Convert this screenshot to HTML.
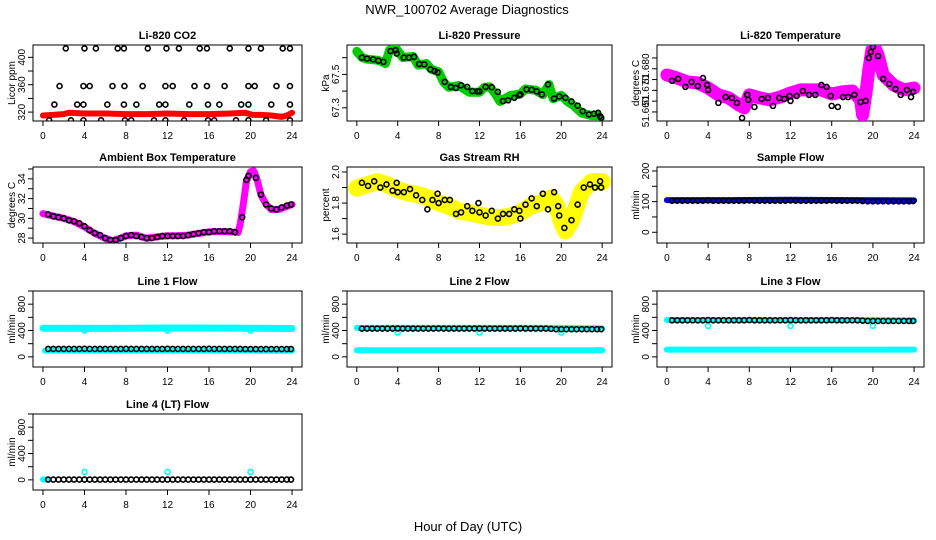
<!DOCTYPE html>
<html><head><meta charset="utf-8"><style>
html,body{margin:0;padding:0;background:#fff;}
svg{display:block;font-family:"Liberation Sans",Arial,sans-serif;}
</style></head><body>
<svg id="chart" width="936" height="540" viewBox="0 0 936 540" xmlns="http://www.w3.org/2000/svg">
<text x="467" y="14" font-size="13" text-anchor="middle">NWR_100702  Average Diagnostics</text>
<text x="468" y="531" font-size="13" text-anchor="middle">Hour of Day (UTC)</text>
</svg>
<script>
// ---------- data ----------
const co2BlackHours = [2.2,4,5.1,7.2,7.8,10.1,11.9,13.1,15.1,15.8,18,19.8,21,23.1,23.8, 1.6,3.9,4.5,6.7,7.85,9.6,11.8,12.5,14.6,15.8,17.5,19.8,20.4,22.5,23.8, 1.1,3.3,3.9,6.2,7.8,9,11.2,11.8,14.1,15.9,17,19.1,19.8,22,23.8, 0.6,2.7,3.9,5.6,7.9,8.5,10.7,11.8,13.6,15.9,16.5,18.6,19.8,21.5,23.8];
const co2BlackValues = [413,413,413,413,413,413,413,413,413,413,413,413,413,413,413, 358,358,358,358,358,358,358,358,358,358,358,358,358,358,358, 331,331,331,331,331,331,331,331,331,331,331,331,331,331,331, 308,308,308,308,308,308,308,308,308,308,308,308,308,308,308];
const co2RedHours = [0,1,2,2.5,4,6,8,10,12,14,16,18,19.5,20.2,21,22,23,23.5,24];
const co2RedValues = [315,316,317,319,318,318,317,317,318,317,317,318,319,316,316,315,313,315,319];

const presGreenHours = [0,0.5,1,2,2.5,2.8,3.2,3.8,4.5,5.5,6,6.8,7.3,8,8.5,9,10,11,12,12.5,13,13.5,14,15,16,16.5,17.5,18.2,18.8,19.2,20,20.6,21.2,22,23,23.5,23.8];
const presGreenValues = [67.638,67.601,67.591,67.585,67.575,67.565,67.645,67.658,67.601,67.607,67.556,67.565,67.530,67.516,67.453,67.423,67.433,67.393,67.393,67.423,67.425,67.389,67.338,67.373,67.383,67.413,67.405,67.379,67.439,67.355,67.375,67.338,67.314,67.268,67.253,67.256,67.238];
const presBlackHours = [0.5,1,1.6,2.1,2.6,3.3,3.8,3.9,4.6,5.1,5.6,6.1,6.6,7.2,7.6,7.9,8.6,9.2,9.7,10.2,10.8,11.3,11.8,12,12.6,13.2,13.8,14.3,14.8,15.4,15.9,16,16.6,17.1,17.6,18.1,18.7,19.3,19.8,20.4,21,21.6,22.1,22.7,23.2,23.6,23.8,23.9];
const presBlackValues = [67.601,67.594,67.590,67.582,67.575,67.640,67.645,67.625,67.601,67.600,67.605,67.562,67.560,67.530,67.520,67.512,67.455,67.425,67.418,67.435,67.425,67.400,67.398,67.398,67.425,67.423,67.395,67.340,67.345,67.360,67.375,67.380,67.410,67.408,67.398,67.380,67.440,67.355,67.368,67.360,67.338,67.313,67.280,67.260,67.265,67.270,67.250,67.240];

const tempMagHours = [0,1,2,3,4,5,6,7,7.5,8,9,10,11,12,13,14,15,16,17,18,18.8,19,19.3,19.6,19.9,20.2,20.5,21,22,23,24];
const tempMagValues = [51.6771,51.6757,51.6739,51.6734,51.6711,51.6679,51.6665,51.6632,51.6619,51.6679,51.6665,51.6656,51.6669,51.6688,51.6702,51.6702,51.6702,51.6683,51.6693,51.6697,51.6656,51.6586,51.6679,51.6794,51.6887,51.6896,51.6864,51.6771,51.6725,51.6702,51.6711];
const tempBlackHours = [0.5,1.1,1.8,2.4,3.0,3.5,3.9,4.0,5.0,5.7,6.3,6.8,7.3,7.8,7.9,8.5,9.2,9.8,10.3,10.9,11.4,11.9,12.0,12.6,13.2,13.8,14.4,15.0,15.5,15.9,16.0,16.6,17.1,17.6,18.2,18.8,19.3,19.6,19.8,20.0,20.5,21.0,21.6,22.2,22.7,23.3,23.7,23.9];
const tempBlackValues = [51.6744,51.6753,51.6716,51.6739,51.6720,51.6757,51.6725,51.6702,51.6642,51.6669,51.6665,51.6642,51.6572,51.6679,51.6656,51.6623,51.6660,51.6665,51.6628,51.6665,51.6660,51.6674,51.6651,51.6674,51.6697,51.6679,51.6679,51.6725,51.6716,51.6674,51.6628,51.6623,51.6669,51.6669,51.6679,51.6646,51.6651,51.6850,51.6878,51.6901,51.6859,51.6753,51.6730,51.6706,51.6679,51.6702,51.6669,51.6693];

const ambMagHours = [0,1,2,3,4,5,6,6.7,7.5,8,9,10,11,12,13,14,15,16,17,18,18.8,19,19.3,19.6,20,20.3,20.6,21,21.5,22,22.7,23.3,24];
const ambMagValues = [30.47,30.23,30.0,29.67,29.13,28.47,27.97,27.73,28.0,28.23,28.3,27.97,28.13,28.23,28.23,28.3,28.47,28.63,28.67,28.63,28.57,29.4,31.4,33.73,34.73,34.8,34.07,32.4,31.4,30.9,30.9,31.13,31.4];
const ambBlackHours = [0.5,1,1.5,2,2.5,3,3.5,4,4.5,5,5.5,6,6.5,7,7.5,8,8.5,9,9.5,10,10.5,11,11.5,12,12.5,13,13.5,14,14.5,15,15.5,16,16.5,17,17.5,18,18.5,19.2,19.6,19.8,20.5,21,21.5,22,22.5,23,23.5,23.9];
const ambBlackValues = [30.4,30.2,30.1,30.0,29.8,29.7,29.5,29.2,28.8,28.5,28.3,28.0,27.8,27.8,28.0,28.2,28.3,28.2,28.1,28.0,28.0,28.1,28.2,28.2,28.2,28.2,28.2,28.3,28.4,28.5,28.6,28.6,28.7,28.7,28.7,28.7,28.6,30.1,33.9,34.3,34.1,32.4,31.4,31.0,30.9,31.1,31.3,31.4];

const rhYelHours = [0,1,2,3,4,5,6,7,8,9,10,11,12,13,14,15,16,17,18,19,19.5,20,20.4,21,21.5,22,23,24];
const rhYelValues = [1.896,1.917,1.938,1.917,1.886,1.865,1.854,1.833,1.801,1.780,1.748,1.738,1.723,1.710,1.706,1.716,1.738,1.780,1.801,1.833,1.790,1.684,1.621,1.684,1.780,1.875,1.938,1.938];
const rhBlackHours = [0.5,1.1,1.7,2.3,2.9,3.5,3.9,4.0,4.6,5.2,5.8,6.4,6.9,7.4,7.9,8.0,8.6,9.1,9.7,10.2,10.8,11.3,11.9,12.0,12.6,13.2,13.8,14.3,14.9,15.4,15.9,16.0,16.5,17.1,17.6,18.2,18.7,19.3,19.7,19.8,20.3,21.0,21.6,22.2,22.8,23.3,23.8,23.9];
const rhBlackValues = [1.93,1.91,1.94,1.90,1.92,1.88,1.93,1.87,1.87,1.89,1.85,1.82,1.76,1.82,1.86,1.80,1.82,1.82,1.73,1.74,1.78,1.75,1.80,1.74,1.72,1.75,1.70,1.73,1.73,1.76,1.75,1.70,1.79,1.83,1.78,1.86,1.76,1.87,1.78,1.72,1.64,1.69,1.79,1.90,1.92,1.90,1.94,1.90];

const flowHours = [0.5,1,1.5,2,2.5,3,3.5,4,4.5,5,5.5,6,6.5,7,7.5,8,8.5,9,9.5,10,10.5,11,11.5,12,12.5,13,13.5,14,14.5,15,15.5,16,16.5,17,17.5,18,18.5,19,19.5,20,20.5,21,21.5,22,22.5,23,23.5,23.9];
const sampleBlack = [103,103,103,103,103,103,103,104,103,103,103,103,103,103,103,104,103,103,103,103,103,103,103,104,103,103,103,103,103,103,103,104,103,103,103,103,103,102,101,101,101,101,101,101,101,101,101,102];
const sampleBlueHours = [0,6,12,18,24];
const sampleBlueValues = [105,105,106,105,104];
const line1Black = [120,120,120,120,120,120,120,122,120,120,120,120,120,120,120,122,120,120,120,120,120,120,120,122,120,120,120,120,120,120,120,122,120,120,120,120,120,120,118,118,118,118,118,118,118,118,118,118];
const line1UpperHours = [0,6,12,18,24];
const line1UpperValues = [435,432,438,436,430];
const line1LowerHours = [0.2,6,12,18,24];
const line1LowerValues = [95,95,95,95,95];
const line1OutHours = [4,12,20];
const line1OutValues = [400,400,400];
const line2Black = [430,430,430,430,430,430,430,432,430,430,430,430,430,430,430,432,430,430,430,430,430,430,430,432,430,430,430,430,430,430,430,432,430,430,430,430,430,425,420,420,420,420,420,420,420,420,420,420];
const line2UpperHours = [0,6,12,18,24];
const line2UpperValues = [440,440,440,440,430];
const line2LowerHours = [0,6,12,18,24];
const line2LowerValues = [100,100,100,100,100];
const line2OutHours = [4,12,20];
const line2OutValues = [370,370,370];
const line3Black = [555,555,555,555,555,555,555,558,555,555,555,555,555,555,555,558,555,555,555,555,555,555,555,558,555,555,555,555,555,555,555,558,555,555,555,555,555,550,545,545,545,545,545,545,545,545,545,545];
const line3UpperHours = [0,6,12,18,24];
const line3UpperValues = [560,560,560,560,550];
const line3LowerHours = [0,6,12,18,24];
const line3LowerValues = [110,110,110,110,110];
const line3OutHours = [4,12,20];
const line3OutValues = [470,470,470];
const line4Black = [5,5,5,5,5,5,5,5,5,5,5,5,5,5,5,5,5,5,5,5,5,5,5,5,5,5,5,5,5,5,5,5,5,5,5,5,5,5,5,5,5,5,5,5,5,5,5,5];
const line4CyanHours = [0,0.4];
const line4CyanValues = [5,5];
const line4OutHours = [4,12,20];
const line4OutValues = [120,120,120];

const xTicks = [0,4,8,12,16,20,24];
const flowTicks = [0,200,400,600,800,1000];
const flowLabels = ["0","","400","","800",""];

// ---------- layout ----------
const NS = "http://www.w3.org/2000/svg";
const svg = document.getElementById('chart');
const colLeft = [33,347,657], colW = [269,265,267];
const rowTop = [45,167,291,414], H = 76;

function mk(tag, attrs, parent){
  const e = document.createElementNS(NS, tag);
  for (const k in attrs) e.setAttribute(k, attrs[k]);
  (parent||svg).appendChild(e); return e;
}

function panel(name, col, row, title, ylab, ydom, yticks, ylabels, showX){
  const L = colLeft[col], W = colW[col], T = rowTop[row], B = T + H;
  const g = mk('g', {});
  
  
  const x = h => L + (h + 0.96) / 25.92 * W;
  const y = v => B - (v - ydom[0]) / (ydom[1] - ydom[0]) * H;
  const box = mk('rect', {x:L, y:T, width:W, height:H, fill:'none', stroke:'#000', 'stroke-width':1}, g);
  
  
  const t = mk('text', {x:L + W/2, y:T - 6, 'font-size':11, 'font-weight':'bold', 'text-anchor':'middle'}, g);
  t.textContent = title;
  
  
  const yl = mk('text', {transform:`translate(${L-18},${T+H/2}) rotate(-90)`, 'font-size':10, 'text-anchor':'middle'}, g);
  yl.textContent = ylab;
  
  
  const ya = mk('g', {}, g);
  
  
  mk('line', {x1:L, x2:L, y1:y(yticks[0]), y2:y(yticks[yticks.length-1]), stroke:'#000'}, ya);
  yticks.forEach((v,i) => {
    mk('line', {x1:L-5, x2:L, y1:y(v), y2:y(v), stroke:'#000'}, ya);
    if (ylabels[i]) {
      const tl = mk('text', {transform:`translate(${L-8},${y(v)}) rotate(-90)`, 'font-size':10, 'text-anchor':'middle'}, ya);
      tl.textContent = ylabels[i];
    }
  });
  const xa = mk('g', {}, g);
  
  
  mk('line', {x1:x(0), x2:x(24), y1:B, y2:B, stroke:'#000'}, xa);
  xTicks.forEach(h => {
    mk('line', {x1:x(h), x2:x(h), y1:B, y2:B+5, stroke:'#000'}, xa);
    if (showX) {
      const tl = mk('text', {x:x(h), y:B+18, 'font-size':10, 'text-anchor':'middle'}, xa);
      tl.textContent = String(h);
    }
  });
  const clip = 'clip-' + name;
  const cp = mk('clipPath', {id:clip}, g);
  mk('rect', {x:L, y:T, width:W, height:H}, cp);
  const plot = mk('g', {'clip-path':`url(#${clip})`}, g);
  return {
    band(hours, vals, color, w, nm){
      const p = mk('polyline', {points: hours.map((h,i)=>x(h)+','+y(vals[i])).join(' '), fill:'none', stroke:color, 'stroke-width':w, 'stroke-linecap':'round', 'stroke-linejoin':'round'}, plot);
      
      
    },
    pts(hours, vals, color, nm, r){
      const pg = mk('g', {}, plot);
      
      
      hours.forEach((h,i) => {
        const c = mk('circle', {cx:x(h), cy:y(vals[i]), r:r||2.5, fill:'none', stroke:color, 'stroke-width':1.6}, pg);
        
        
      });
    }
  };
}

// CO2
let p = panel('co2-panel',0,0,'Li-820 CO2','Licor ppm',[307,418],[320,340,360,380,400],['320','','360','','400'],true);
p.band(co2RedHours, co2RedValues, '#ff0000', 6, 'co2-red-series');
p.pts(co2BlackHours, co2BlackValues, '#000', 'co2-black-series');
// Pressure
p = panel('pressure-panel',1,0,'Li-820 Pressure','kPa',[67.221,67.676],[67.3,67.4,67.5,67.6],['67.3','','67.5',''],true);
p.band(presGreenHours, presGreenValues, '#00cc00', 9, 'pressure-green-series');
p.pts(presBlackHours, presBlackValues, '#000', 'pressure-black-series');
// Temperature
p = panel('temperature-panel',2,0,'Li-820 Temperature','degrees C',[51.6558,51.6910],[51.660,51.665,51.670,51.675,51.680,51.685],['51.660','','51.670','','51.680',''],true);
p.band(tempMagHours, tempMagValues, '#ff00ff', 13, 'temperature-magenta-series');
p.pts(tempBlackHours, tempBlackValues, '#000', 'temperature-black-series');
// Ambient
p = panel('ambient-panel',0,1,'Ambient Box Temperature','degrees C',[27.5,35.2],[28,29,30,31,32,33,34,35],['28','','30','','32','','34',''],true);
p.band(ambMagHours, ambMagValues, '#ff00ff', 7, 'ambient-magenta-series');
p.pts(ambBlackHours, ambBlackValues, '#000', 'ambient-black-series');
// RH
p = panel('rh-panel',1,1,'Gas Stream RH','percent',[1.543,2.032],[1.6,1.7,1.8,1.9,2.0],['1.6','','1.8','','2.0'],true);
p.band(rhYelHours, rhYelValues, '#ffff00', 17, 'rh-yellow-series');
p.pts(rhBlackHours, rhBlackValues, '#000', 'rh-black-series');
// Sample flow
p = panel('sample-flow-panel',2,1,'Sample Flow','ml/min',[-35,213],[0,50,100,150,200],['0','','100','','200'],true);
p.band(sampleBlueHours, sampleBlueValues, '#0000ff', 6, 'sample-blue-series');
p.pts(flowHours, sampleBlack, '#000', 'sample-black-series');
// Line 1
p = panel('line1-panel',0,2,'Line 1 Flow','ml/min',[-154,1000],flowTicks,flowLabels,true);
p.band(line1UpperHours, line1UpperValues, '#00ffff', 7, 'line1-cyan-upper');
p.band(line1LowerHours, line1LowerValues, '#00ffff', 6, 'line1-cyan-lower');
p.pts(line1OutHours, line1OutValues, '#00ffff', 'line1-cyan-outliers');
p.pts(flowHours, line1Black, '#000', 'line1-black-series');
// Line 2
p = panel('line2-panel',1,2,'Line 2 Flow','ml/min',[-154,1000],flowTicks,flowLabels,true);
p.band(line2UpperHours, line2UpperValues, '#00ffff', 6, 'line2-cyan-upper');
p.band(line2LowerHours, line2LowerValues, '#00ffff', 6, 'line2-cyan-lower');
p.pts(line2OutHours, line2OutValues, '#00ffff', 'line2-cyan-outliers');
p.pts(flowHours, line2Black, '#000', 'line2-black-series');
// Line 3
p = panel('line3-panel',2,2,'Line 3 Flow','ml/min',[-154,1000],flowTicks,flowLabels,true);
p.band(line3UpperHours, line3UpperValues, '#00ffff', 6, 'line3-cyan-upper');
p.band(line3LowerHours, line3LowerValues, '#00ffff', 6, 'line3-cyan-lower');
p.pts(line3OutHours, line3OutValues, '#00ffff', 'line3-cyan-outliers');
p.pts(flowHours, line3Black, '#000', 'line3-black-series');
// Line 4
p = panel('line4-panel',0,3,'Line 4 (LT) Flow','ml/min',[-154,1000],flowTicks,flowLabels,true);
p.band(line4CyanHours, line4CyanValues, '#00ffff', 6, 'line4-cyan-series');
p.pts(line4OutHours, line4OutValues, '#00ffff', 'line4-cyan-outliers');
p.pts(flowHours, line4Black, '#000', 'line4-black-series');
</script>
</body></html>
